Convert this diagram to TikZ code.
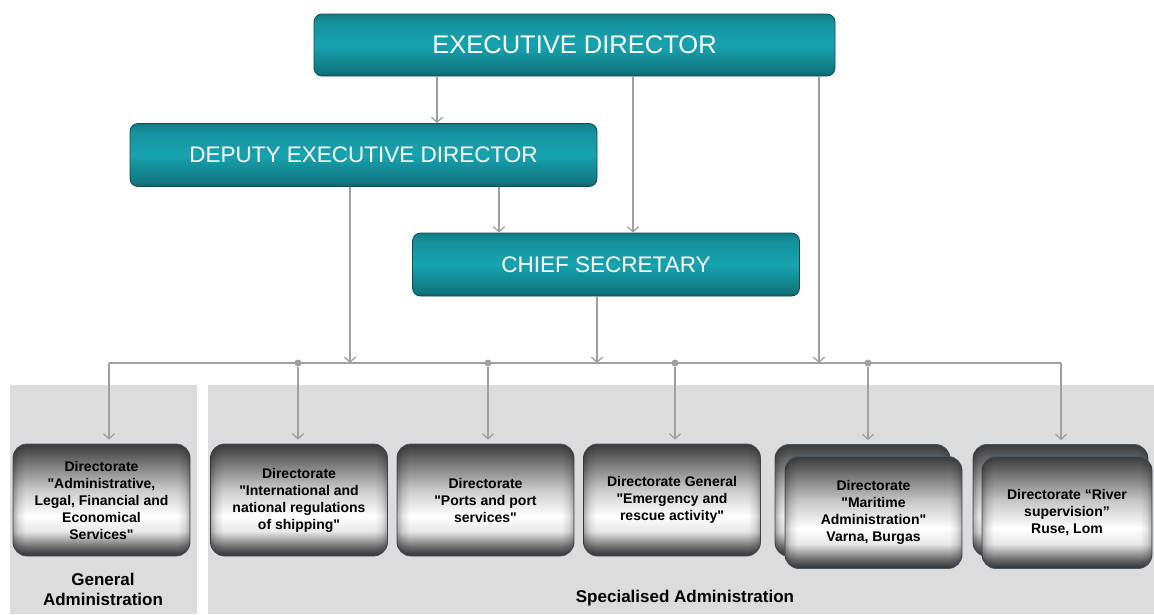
\documentclass[tikz,border=0pt]{standalone}
\usepackage{fontspec}
\newfontfamily\arial{Liberation Sans}
\usetikzlibrary{arrows.meta}
\definecolor{panel}{HTML}{DCDCDC}
\definecolor{conncol}{HTML}{A0A0A0}
\definecolor{tealedge}{HTML}{0B4F56}
\definecolor{boxedge}{HTML}{4A5566}
\definecolor{tA}{HTML}{0C5F67}
\definecolor{tB}{HTML}{10757E}
\definecolor{tC}{HTML}{17A3AF}
\definecolor{tD}{HTML}{16929D}
\definecolor{tE}{HTML}{137B85}
\definecolor{gA}{HTML}{2E2E2E}
\definecolor{gB}{HTML}{6A6A6A}
\definecolor{gC}{HTML}{E8E8E8}
\definecolor{gD}{HTML}{C8C8C8}
\definecolor{gE}{HTML}{7A7A7A}
\definecolor{gF}{HTML}{3A3A3A}
\definecolor{eA}{HTML}{B0B0B0}
\definecolor{eB}{HTML}{E4E4E4}
\pgfdeclareverticalshading{tealshade}{100bp}{color(0bp)=(tA); color(25bp)=(tA); color(28bp)=(tB); color(50bp)=(tC); color(68bp)=(tD); color(75bp)=(tE); color(100bp)=(tE)}
\pgfdeclareverticalshading{grayshade}{100bp}{color(0bp)=(gA); color(25bp)=(gA); color(29bp)=(gB); color(36bp)=(gC); color(43bp)=(white); color(55bp)=(gD); color(66bp)=(gE); color(75bp)=(gF); color(100bp)=(gF)}
\pgfdeclarehorizontalshading{edgeshade}{100bp}{color(0bp)=(eA); color(25bp)=(eA); color(26.5bp)=(eB); color(28.5bp)=(white); color(71.5bp)=(white); color(73.5bp)=(eB); color(75bp)=(eA); color(100bp)=(eA)}
\begin{document}
\begin{tikzpicture}[x=1pt,y=-1pt,
  topbox/.style={rounded corners=8pt, shading=tealshade, draw=tealedge, line width=0.8pt, text=white, font=\arial\fontsize{22.5}{27}\selectfont, inner sep=0pt},
  dirbox/.style={rounded corners=14pt, shading=grayshade, draw=boxedge, line width=0.8pt,
    postaction={shading=edgeshade, blend mode=multiply},
    font=\arial\bfseries\fontsize{14}{17}\selectfont, align=center, minimum width=177pt, minimum height=112pt, inner sep=0pt},
  conn/.style={draw=conncol, line width=1.3pt},
  arr/.style={conn, -{Straight Barb[length=5pt,width=11pt]}},
  dot/.style={circle, fill=conncol, inner sep=0pt, minimum size=7pt},
  lbl/.style={font=\arial\bfseries\fontsize{17}{20}\selectfont, align=center}]
\fill[white] (0,0) rectangle (1154,614);
\useasboundingbox (0,0) rectangle (1154,614);
% panels
\fill[panel] (10,385) rectangle (197,614);
\fill[panel] (208,385) rectangle (1154,614);
% top boxes
\node[topbox, minimum width=521pt, minimum height=62pt, font=\arial\fontsize{25.5}{30}\selectfont] (exec) at (574.5,45) {EXECUTIVE DIRECTOR};
\node[topbox, minimum width=467pt, minimum height=63pt] (deputy) at (363.5,155) {DEPUTY EXECUTIVE DIRECTOR};
\node[topbox, minimum width=387pt, minimum height=63pt] (chief) at (606,264.5) {CHIEF SECRETARY};
% bottom boxes
\node[dirbox] (b1) at (101.5,500) {Directorate\\"Administrative,\\Legal, Financial and\\Economical\\Services"};
\node[dirbox] (b2) at (299,500) {Directorate\\"International and\\national regulations\\of shipping"};
\node[dirbox] (b3) at (485.5,500) {Directorate\\"Ports and port\\services"};
\node[dirbox] (b4) at (672,500) {Directorate General\\"Emergency and\\rescue activity"};
\node[dirbox, minimum width=175pt] (b5back) at (862.5,500.5) {};
\node[dirbox] (b5) at (873.5,512.5) {Directorate\\"Maritime\\Administration"\\Varna, Burgas};
\node[dirbox, minimum width=175pt] (b6back) at (1060.5,500.5) {};
\node[dirbox, minimum width=170pt] (b6) at (1067,512.5) {Directorate “River\\supervision”\\Ruse, Lom};
% labels
\node[lbl] (lgen) at (103,589) {General\\Administration};
\node[lbl] (lspec) at (685,598) {Specialised Administration};
% bus
\coordinate (busL) at (109,363);
\coordinate (busR) at (1061,363);
\draw[conn] (busL) -- (busR);
\node[dot] (j1) at (298,363) {};
\node[dot] (j2) at (488,363) {};
\node[dot] (j3) at (675,363) {};
\node[dot] (j4) at (868,363) {};
% top connectors
\draw[arr] ([xshift=-137.5pt]exec.south) -- ([xshift=-137.5pt]exec.south |- deputy.north);
\draw[arr] ([xshift=58.5pt]exec.south) -- ([xshift=58.5pt]exec.south |- chief.north);
\draw[arr] ([xshift=135.5pt]deputy.south) -- ([xshift=135.5pt]deputy.south |- chief.north);
\draw[arr] ([xshift=-13.5pt]deputy.south) -- ([xshift=-13.5pt]deputy.south |- busL);
\draw[arr] ([xshift=-9pt]chief.south) -- ([xshift=-9pt]chief.south |- busL);
\draw[arr] ([xshift=244.5pt]exec.south) -- ([xshift=244.5pt]exec.south |- busL);
% drops
\draw[arr, shorten >=4pt] (busL) -- (busL |- b1.north);
\draw[arr, shorten >=4pt] (j1) -- (j1 |- b2.north);
\draw[arr, shorten >=4pt] (j2) -- (j2 |- b3.north);
\draw[arr, shorten >=4pt] (j3) -- (j3 |- b4.north);
\draw[arr, shorten >=4pt] (j4) -- (j4 |- b5back.north);
\draw[arr, shorten >=4pt] (busR) -- (busR |- b6back.north);
\end{tikzpicture}
\end{document}
